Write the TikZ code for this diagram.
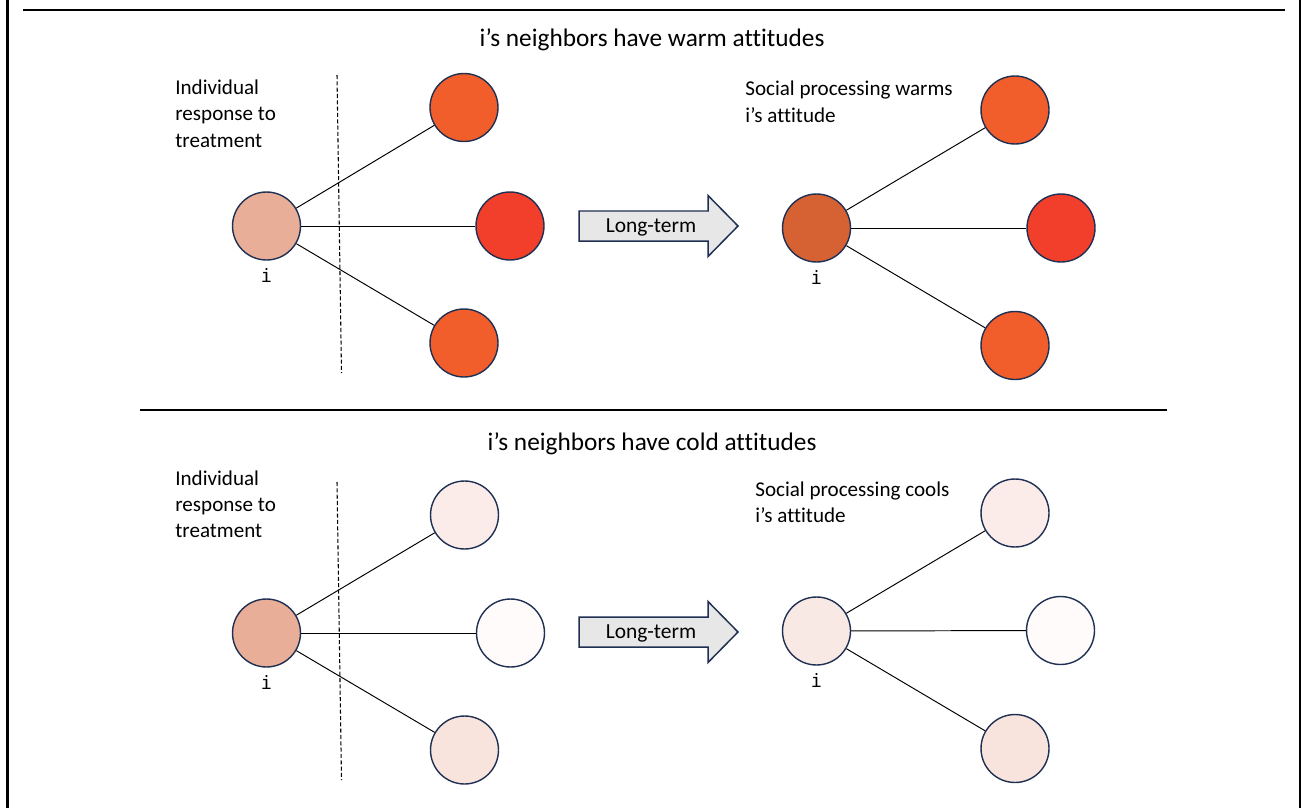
\documentclass[tikz,border=0pt]{standalone}
\usepackage{fontspec}
\setmainfont{Carlito}[Ligatures=NoCommon]
\setmonofont{DejaVu Sans Mono}
\usetikzlibrary{positioning}

\definecolor{nodeline}{HTML}{1F3052}
\definecolor{arrowfill}{HTML}{E7E7E7}
\definecolor{warmlight}{HTML}{E9AE98}
\definecolor{warmorange}{HTML}{F15E2B}
\definecolor{warmred}{HTML}{F13F2C}
\definecolor{warmburnt}{HTML}{D66133}
\definecolor{coldtop}{HTML}{FBECE9}
\definecolor{coldmid}{HTML}{FEFBFA}
\definecolor{coldbot}{HTML}{F8E4DD}
\definecolor{cooled}{HTML}{F9E9E4}

\tikzset{
  person/.style={circle, draw=nodeline, line width=0.8pt, minimum size=1.36cm, inner sep=0pt},
  social/.style={line width=0.55pt},
  cutline/.style={line width=0.6pt, dash pattern=on 2.3pt off 1.3pt},
  idlabel/.style={inner sep=0pt, font=\ttfamily\fontsize{10.5}{12}\selectfont},
  caption/.style={anchor=base west, align=left, inner sep=0pt, font=\fontsize{12}{14.8}\selectfont},
  heading/.style={anchor=base, inner sep=0pt, font=\fontsize{14.4}{17}\selectfont},
  longterm/.style={draw=nodeline, fill=arrowfill, line width=0.85pt, line join=miter},
  arrowtext/.style={inner sep=0pt, font=\fontsize{12.2}{14}\selectfont},
  frame/.style={line width=1.15pt}
}

\begin{document}
\begin{tikzpicture}[x=0.02cm, y=-0.02cm]
\useasboundingbox (0,0) rectangle (1301,808);

%% outer frame
\draw[frame] (7.5,0) -- (7.5,808);
\draw[frame] (23,10) -- (1285,10);
\draw[frame] (1299.5,0) -- (1299.5,808);

%% separator
\draw[line width=0.6pt] (140,410) -- (1167,410);

% warm neighbors (captions sit on their last line)
\node[heading] (titleW) at (652,46) {i’s neighbors have warm attitudes};
% before
\node[caption] (capW) at (175,147) {Individual\\response to\\treatment};
\draw[cutline] (337,75) -- (341.5,373);
\node[person, fill=warmlight] (iW) at (266.5,226) {};
\node[person, fill=warmorange] (nW1) at (464,107.5) {};
\node[person, fill=warmred] (nW2) at (510,226) {};
\node[person, fill=warmorange] (nW3) at (464,343) {};
\node[idlabel, below=4.5pt of iW] (labW) {i};
\draw[social] (iW) -- (nW1);
\draw[social] (iW) -- (nW2);
\draw[social] (iW) -- (nW3);
% arrow
\draw[longterm] (579,211) -- (708,211) -- (708,195.5) -- (738,226) -- (708,256.5) -- (708,241) -- (579,241) -- cycle;
\node[arrowtext] (ltW) at (651,227.5) {Long-term};
% after
\node[caption] (socW) at (745,122) {Social processing warms\\i’s attitude};
\node[person, fill=warmburnt] (jW) at (816.5,228) {};
\node[person, fill=warmorange] (mW1) at (1015,110) {};
\node[person, fill=warmred] (mW2) at (1061,228) {};
\node[person, fill=warmorange] (mW3) at (1015,345.5) {};
\node[idlabel, below=4.5pt of jW] (labjW) {i};
\draw[social] (jW) -- (mW1);
\draw[social] (jW) -- (mW2);
\draw[social] (jW) -- (mW3);

% cold neighbors
\node[heading] (titleC) at (652,450) {i’s neighbors have cold attitudes};
% before
\node[caption] (capC) at (175,537) {Individual\\response to\\treatment};
\draw[cutline] (337,482) -- (341.5,780);
\node[person, fill=warmlight] (iC) at (266.5,633) {};
\node[person, fill=coldtop] (nC1) at (464.5,515) {};
\node[person, fill=coldmid] (nC2) at (510.5,633) {};
\node[person, fill=coldbot] (nC3) at (464.5,750) {};
\node[idlabel, below=4.5pt of iC] (labC) {i};
\draw[social] (iC) -- (nC1);
\draw[social] (iC) -- (nC2);
\draw[social] (iC) -- (nC3);
% arrow
\draw[longterm] (579,617) -- (708,617) -- (708,601.5) -- (738,632) -- (708,662.5) -- (708,647) -- (579,647) -- cycle;
\node[arrowtext] (ltC) at (651,633.5) {Long-term};
% after
\node[caption] (socC) at (755,522) {Social processing cools\\i’s attitude};
\node[person, fill=cooled] (jC) at (816.5,631) {};
\node[person, fill=coldtop] (mC1) at (1015,513) {};
\node[person, fill=coldmid] (mC2) at (1060.5,630.5) {};
\node[person, fill=coldbot] (mC3) at (1015,748.5) {};
\node[idlabel, below=4.5pt of jC] (labjC) {i};
\draw[social] (jC) -- (mC1);
\draw[social] (jC) -- (mC2);
\draw[social] (jC) -- (mC3);

\end{tikzpicture}
\end{document}
